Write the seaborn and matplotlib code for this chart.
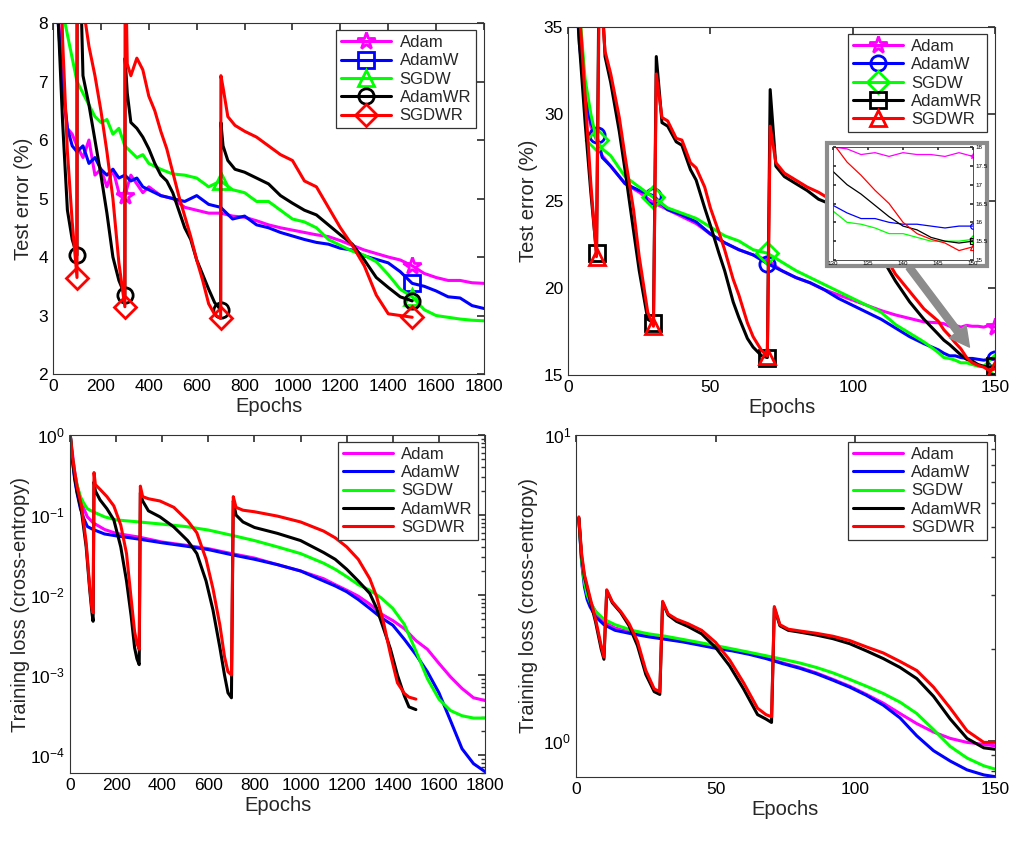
import matplotlib
matplotlib.use("Agg")
import matplotlib.pyplot as plt
from matplotlib.patches import Rectangle
from matplotlib.ticker import NullFormatter, LogLocator
import seaborn as sns

names = ["Adam", "AdamW", "SGDW", "AdamWR", "SGDWR"]
colors = ["#ff00ff", "#0000ff", "#00ff00", "#000000", "#ff0000"]

# ---- top left: test error, 1800 epochs ----
tl_ep = [0, 20, 40, 60, 80, 100, 125, 150, 175, 200,
         225, 250, 275, 300, 325, 350, 375, 400, 450, 500,
         550, 600, 650, 700, 750, 800, 850, 900, 950, 1000,
         1050, 1100, 1150, 1200, 1250, 1300, 1350, 1400, 1450, 1500,
         1550, 1600, 1650, 1700, 1750, 1800]
tl_adam = [10.5, 8.3, 7.0, 6.2, 6.1, 5.9, 5.7, 6.0, 5.4, 5.5,
           5.2, 5.5, 5.1, 5.05, 5.4, 5.25, 5.1, 5.2, 5.05, 5.0,
           4.85, 4.8, 4.75, 4.75, 4.7, 4.68, 4.62, 4.55, 4.5, 4.46,
           4.42, 4.38, 4.35, 4.28, 4.2, 4.12, 4.06, 4.0, 3.95, 3.85,
           3.72, 3.65, 3.6, 3.6, 3.56, 3.55]
tl_adamw = [10.0, 8.1, 6.9, 6.2, 5.9, 5.8, 5.9, 5.6, 5.7, 5.5,
            5.4, 5.5, 5.35, 5.4, 5.3, 5.35, 5.2, 5.15, 5.05, 5.0,
            4.95, 5.05, 4.9, 4.85, 4.65, 4.7, 4.55, 4.5, 4.42, 4.36,
            4.3, 4.25, 4.22, 4.15, 4.12, 4.02, 3.96, 3.9, 3.75, 3.55,
            3.5, 3.42, 3.32, 3.3, 3.17, 3.12]
tl_sgdw = [12.0, 9.5, 8.2, 7.8, 7.4, 7.0, 6.8, 6.6, 6.4, 6.3,
           6.35, 6.1, 6.2, 5.9, 5.8, 5.7, 5.75, 5.6, 5.5, 5.42,
           5.4, 5.35, 5.2, 5.3, 5.15, 5.1, 4.95, 4.95, 4.8, 4.65,
           4.6, 4.5, 4.3, 4.2, 4.1, 4.03, 3.92, 3.7, 3.45, 3.32,
           3.1, 3.0, 2.97, 2.94, 2.92, 2.91]

tlr_ep = [0, 20, 40, 60, 80, 100, 101, 125, 150, 175,
          200, 225, 250, 275, 300, 301, 310, 325, 350, 375,
          400, 425, 450, 475, 500, 525, 550, 575, 600, 625,
          650, 675, 700, 701, 710, 730, 760, 800, 850, 900,
          950, 1000, 1050, 1100, 1150, 1200, 1250, 1300, 1350, 1400,
          1450, 1500]
tl_adamwr = [14.0, 8.2, 6.3, 4.8, 4.3, 4.03, 11.0, 7.1, 6.6, 6.0,
             5.4, 4.75, 4.0, 3.6, 3.35, 7.4, 6.8, 6.3, 6.2, 6.05,
             5.85, 5.6, 5.4, 5.3, 5.1, 4.8, 4.5, 4.3, 3.95, 3.7,
             3.45, 3.22, 3.1, 6.3, 5.9, 5.65, 5.5, 5.45, 5.35, 5.25,
             5.05, 4.92, 4.8, 4.72, 4.55, 4.38, 4.22, 3.95, 3.65, 3.48,
             3.32, 3.25]
tl_sgdwr = [16.0, 11.0, 7.7, 5.8, 4.6, 3.65, 14.0, 8.3, 7.6, 7.1,
            6.5, 5.8, 5.0, 3.9, 3.15, 9.5, 7.3, 7.1, 7.4, 7.2,
            6.75, 6.5, 6.15, 5.85, 5.45, 5.05, 4.7, 4.35, 3.95, 3.6,
            3.2, 3.02, 2.95, 7.1, 6.9, 6.4, 6.25, 6.15, 6.05, 5.9,
            5.75, 5.65, 5.3, 5.2, 4.85, 4.5, 4.2, 3.85, 3.35, 3.03,
            3.0, 2.97]

# ---- top right: test error, 150 epochs ----
tr_ep = [0, 2, 4, 6, 8, 10, 12, 15, 20, 25,
         30, 35, 40, 45, 50, 55, 60, 65, 70, 75,
         80, 85, 90, 95, 100, 105, 110, 115, 120, 125,
         130, 132, 134, 136, 138, 140, 142, 144, 146, 148,
         150]
tr_adam = [45, 40, 35, 31, 29.3, 28.5, 27.6, 27.0, 26.0, 25.5,
           24.9, 24.5, 24.1, 23.7, 23.1, 22.6, 22.2, 21.9, 21.6, 21.0,
           20.6, 20.3, 19.9, 19.6, 19.3, 19.0, 18.7, 18.45, 18.25, 18.05,
           18.0, 17.95, 17.8, 17.85, 17.75, 17.85, 17.8, 17.8, 17.75, 17.85,
           17.75]
tr_adamw = [45, 39, 34, 31, 29.5, 28.8, 27.5, 27.0, 26.0, 25.6,
            25.3, 24.5, 24.2, 23.8, 23.1, 22.6, 22.2, 21.9, 21.4, 21.0,
            20.6, 20.3, 19.9, 19.4, 19.0, 18.6, 18.2, 17.7, 17.2, 16.8,
            16.45, 16.25, 16.1, 16.1, 16.0, 15.95, 15.95, 15.9, 15.85, 15.9,
            15.9]
tr_sgdw = [48, 42, 36, 32, 30, 28.5, 28.0, 27.6, 26.4, 25.8,
           25.2, 24.6, 24.3, 24.0, 23.5, 23.0, 22.7, 22.2, 22.0, 21.5,
           21.0, 20.6, 20.2, 19.8, 19.4, 19.0, 18.6, 17.9, 17.4, 16.9,
           16.3, 16.0, 15.95, 15.85, 15.7, 15.7, 15.6, 15.5, 15.5, 15.5,
           15.55]

trr_ep = [0, 2, 4, 6, 8, 10, 11, 13, 15, 18,
          20, 23, 25, 28, 30, 31, 33, 35, 38, 40,
          43, 45, 48, 50, 53, 55, 58, 60, 63, 65,
          68, 70, 71, 73, 76, 80, 84, 88, 91, 95,
          100, 105, 110, 115, 120, 125, 130, 132, 134, 136,
          138, 140, 142, 144, 146, 148, 150]
tr_adamwr = [50, 40, 34, 29.5, 25.5, 22.0, 40, 33.3, 31.8, 29.0,
             26.8, 23.3, 21.0, 18.2, 18.0, 33.3, 29.5, 29.3, 28.4, 28.2,
             26.8, 26.2, 24.6, 23.6, 22.0, 21.0, 19.2, 18.3, 17.1, 16.6,
             16.1, 16.0, 31.4, 27.0, 26.4, 26.0, 25.6, 25.1, 24.9, 24.3,
             23.6, 22.8, 21.8, 20.4, 19.2, 18.2, 17.35, 17.0, 16.75, 16.45,
             16.15, 15.9, 15.8, 15.6, 15.5, 15.45, 15.5]
tr_sgdwr = [52, 44, 36, 31, 26, 21.8, 38, 33.6, 32.3, 29.8,
            27.6, 24.5, 21.8, 18.6, 17.8, 32.3, 29.8, 29.6, 28.6, 28.5,
            27.2, 26.9, 25.8, 24.6, 23.2, 22.2, 20.5, 19.6, 18.0, 17.2,
            16.4, 16.1, 29.3, 27.2, 26.6, 26.2, 25.8, 25.5, 25.2, 24.6,
            23.9, 23.1, 22.2, 20.8, 19.8, 18.8, 18.1, 17.6, 17.25, 16.85,
            16.5, 16.0, 15.7, 15.55, 15.45, 15.25, 15.35]

# ---- bottom left: training loss, 1800 epochs ----
bl_ep = [1, 10, 20, 30, 45, 60, 75, 100, 150, 200,
         300, 400, 500, 600, 700, 800, 900, 1000, 1100, 1150,
         1200, 1250, 1300, 1350, 1400, 1450, 1500, 1550, 1600, 1650,
         1700, 1750, 1800]
bl_adam = [1.0, 0.6, 0.35, 0.24, 0.16, 0.12, 0.095, 0.08, 0.066, 0.059,
           0.053, 0.046, 0.042, 0.038, 0.033, 0.029, 0.024, 0.02, 0.016, 0.0135,
           0.0115, 0.0097, 0.0077, 0.0058, 0.0048, 0.0038, 0.0027, 0.0021, 0.0014, 0.00095,
           0.00068, 0.00052, 0.00048]
bl_adamw = [1.0, 0.5, 0.28, 0.19, 0.12, 0.09, 0.072, 0.066, 0.058, 0.055,
            0.05, 0.045, 0.041, 0.037, 0.032, 0.028, 0.024, 0.02, 0.015, 0.013,
            0.011, 0.0088, 0.0068, 0.0052, 0.0042, 0.0028, 0.0018, 0.0011, 0.0006, 0.00027,
            0.00012, 7.8e-5, 6.2e-5]
bl_sgdw = [1.0, 0.55, 0.33, 0.24, 0.17, 0.14, 0.12, 0.11, 0.095, 0.087,
           0.082, 0.077, 0.072, 0.065, 0.056, 0.048, 0.04, 0.033, 0.025, 0.021,
           0.017, 0.0135, 0.0115, 0.0092, 0.0068, 0.0043, 0.002, 0.0009, 0.0005, 0.00036,
           0.00031, 0.00029, 0.00029]

blr_ep = [1, 10, 20, 30, 50, 70, 85, 95, 100, 104,
          110, 130, 160, 190, 220, 245, 265, 280, 290, 300,
          305, 315, 340, 390, 450, 510, 550, 590, 620, 650,
          670, 685, 700, 708, 720, 750, 800, 900, 1000, 1100,
          1150, 1200, 1250, 1300, 1330, 1360, 1390, 1420, 1450, 1470,
          1500]
bl_adamwr = [1.0, 0.5, 0.3, 0.2, 0.11, 0.04, 0.012, 0.006, 0.0047, 0.26,
             0.2, 0.155, 0.12, 0.087, 0.04, 0.015, 0.0055, 0.0022, 0.0016, 0.00135,
             0.19, 0.15, 0.113, 0.095, 0.071, 0.048, 0.033, 0.015, 0.0065, 0.0022,
             0.001, 0.0006, 0.00052, 0.15, 0.1, 0.082, 0.07, 0.059, 0.048, 0.034,
             0.028, 0.021, 0.015, 0.0105, 0.0068, 0.0038, 0.0021, 0.001, 0.00055, 0.0004,
             0.00037]
bl_sgdwr = [1.0, 0.55, 0.35, 0.23, 0.13, 0.045, 0.013, 0.0068, 0.006, 0.34,
            0.24, 0.21, 0.17, 0.13, 0.075, 0.033, 0.009, 0.0035, 0.0025, 0.0021,
            0.23, 0.17, 0.16, 0.15, 0.125, 0.085, 0.06, 0.028, 0.012, 0.0042,
            0.0017, 0.0011, 0.001, 0.17, 0.125, 0.115, 0.11, 0.097, 0.082, 0.063,
            0.052, 0.04, 0.028, 0.016, 0.0095, 0.0045, 0.0018, 0.0008, 0.00059, 0.00053,
            0.0005]

# ---- bottom right: training loss, 150 epochs ----
br_ep = [1, 2, 3, 4, 5, 7, 10, 14, 20, 26,
         32, 38, 44, 50, 56, 62, 68, 74, 80, 86,
         92, 98, 104, 110, 116, 122, 128, 134, 140, 146,
         150]
br_adam = [5.35, 3.9, 3.3, 3.0, 2.85, 2.65, 2.45, 2.34, 2.26, 2.2,
           2.16, 2.12, 2.07, 2.02, 1.98, 1.93, 1.87, 1.8, 1.74, 1.67,
           1.59, 1.51, 1.42, 1.33, 1.23, 1.14, 1.07, 1.02, 0.99, 0.975,
           0.965]
br_adamw = [5.35, 3.85, 3.2, 2.9, 2.75, 2.55, 2.4, 2.3, 2.24, 2.19,
            2.15, 2.11, 2.06, 2.01, 1.97, 1.92, 1.86, 1.79, 1.73, 1.66,
            1.58, 1.5, 1.41, 1.31, 1.19, 1.04, 0.93, 0.86, 0.805, 0.775,
            0.765]
br_sgdw = [5.35, 3.9, 3.3, 3.0, 2.85, 2.65, 2.5, 2.4, 2.3, 2.24,
           2.2, 2.15, 2.1, 2.05, 2.0, 1.95, 1.9, 1.85, 1.8, 1.74,
           1.67, 1.59, 1.51, 1.43, 1.34, 1.23, 1.09, 0.96, 0.88, 0.83,
           0.81]

brr_ep = [1, 2, 3, 5, 7, 9, 10, 11, 13, 16,
          19, 22, 25, 28, 30, 31, 33, 36, 40, 45,
          50, 55, 60, 65, 68, 70, 71, 73, 76, 80,
          86, 92, 98, 104, 110, 116, 122, 128, 134, 140,
          146, 150]
br_adamwr = [5.35, 4.0, 3.45, 2.9, 2.45, 2.0, 1.85, 3.1, 2.83, 2.63,
             2.38, 2.05, 1.65, 1.45, 1.42, 2.84, 2.58, 2.46, 2.37, 2.24,
             2.02, 1.76, 1.48, 1.22, 1.18, 1.15, 2.72, 2.38, 2.3, 2.27,
             2.22, 2.16, 2.08, 1.97, 1.86, 1.74, 1.6, 1.4, 1.18, 1.02,
             0.95, 0.94]
br_sgdwr = [5.4, 4.1, 3.5, 2.95, 2.5, 2.05, 1.88, 3.12, 2.85, 2.65,
            2.42, 2.12, 1.7, 1.48, 1.45, 2.86, 2.6, 2.5, 2.42, 2.3,
            2.1, 1.84, 1.55, 1.28, 1.22, 1.2, 2.75, 2.4, 2.32, 2.29,
            2.25, 2.2, 2.13, 2.03, 1.94, 1.82, 1.7, 1.5, 1.28, 1.08,
            0.99, 0.99]

# epochs where each curve carries its marker
tl_marks = [[300, 1500], [1500], [700, 1500],
            [100, 300, 700, 1500], [100, 300, 700, 1500]]
tr_marks = [[150], [10, 30, 70, 150], [10, 30, 70, 150],
            [10, 30, 70, 150], [10, 30, 70, 150]]

# ---------------- style ----------------
sns.set_theme(style="white")
plt.rcParams["font.family"] = ["Liberation Sans", "DejaVu Sans"]
plt.rcParams.update({
    "mathtext.fontset": "custom",
    "mathtext.rm": "Liberation Sans",
    "mathtext.it": "Liberation Sans:italic",
    "axes.edgecolor": "#333333",
    "axes.linewidth": 0.8,
    "xtick.color": "#333333",
    "ytick.color": "#333333",
    "xtick.labelcolor": "black",
    "ytick.labelcolor": "black",
})

fig = plt.figure(figsize=(10.36, 8.43), dpi=100)
ax_tl = fig.add_axes([0.0512, 0.5563, 0.416, 0.4164])
ax_tr = fig.add_axes([0.5483, 0.5552, 0.4122, 0.4128])
ax_bl = fig.add_axes([0.0676, 0.0830, 0.4006, 0.4009])
ax_br = fig.add_axes([0.5560, 0.0783, 0.4044, 0.4057])


def draw(ax, ep, vals, name, color, marker=None, marks=None, lw=2.2, ms=11, mew=2):
    kw = {}
    if marker is not None:
        kw = dict(marker=marker, markevery=[ep.index(m) for m in marks],
                  markersize=ms, markerfacecolor="none",
                  markeredgecolor=color, markeredgewidth=mew)
    sns.lineplot(x=ep, y=vals, color=color, linewidth=lw, label=name,
                 ax=ax, sort=False, estimator=None, **kw)


def style(ax, ylabel, ypad=4):
    ax.tick_params(which="both", direction="in", top=True, right=True,
                   labelsize=12.5)
    ax.tick_params(which="major", length=5)
    ax.tick_params(which="minor", length=3)
    ax.set_xlabel("Epochs", fontsize=14.5, labelpad=2)
    ax.set_ylabel(ylabel, fontsize=14.5, labelpad=ypad)
    leg = ax.legend(loc="upper right", bbox_to_anchor=(0.982, 0.98),
                    fontsize=12, fancybox=False, framealpha=1,
                    edgecolor="#333333", handlelength=3.0, handletextpad=0.5,
                    labelspacing=0.2, borderpad=0.3, borderaxespad=0)
    leg.get_frame().set_linewidth(0.9)


# top left
tl_series = [(tl_ep, tl_adam), (tl_ep, tl_adamw), (tl_ep, tl_sgdw),
             (tlr_ep, tl_adamwr), (tlr_ep, tl_sgdwr)]
tl_markers = ["*", "s", "^", "o", "D"]
for (ep, vals), name, c, m, mk in zip(tl_series, names, colors, tl_markers, tl_marks):
    draw(ax_tl, ep, vals, name, c, m, mk, ms=13 if m == "*" else 11)
ax_tl.set_xlim(0, 1800)
ax_tl.set_ylim(2, 8)
ax_tl.set_xticks(range(0, 1801, 200))
ax_tl.set_yticks(range(2, 9))
style(ax_tl, "Test error (%)")

# top right
tr_series = [(tr_ep, tr_adam), (tr_ep, tr_adamw), (tr_ep, tr_sgdw),
             (trr_ep, tr_adamwr), (trr_ep, tr_sgdwr)]
tr_markers = ["*", "o", "D", "s", "^"]
for (ep, vals), name, c, m, mk in zip(tr_series, names, colors, tr_markers, tr_marks):
    draw(ax_tr, ep, vals, name, c, m, mk, ms=13 if m == "*" else 11)
ax_tr.set_xlim(0, 150)
ax_tr.set_ylim(15, 35)
ax_tr.set_xticks([0, 50, 100, 150])
ax_tr.set_yticks([15, 20, 25, 30, 35])
style(ax_tr, "Test error (%)")
ax_tr.annotate("", xy=(141, 16.6), xytext=(119.8, 21.2),
               arrowprops=dict(facecolor="#8c8c8c", edgecolor="#8c8c8c",
                               width=5, headwidth=15, headlength=14, shrink=0),
               zorder=6)

# inset with gray frame
frame = Rectangle((827 / 1036, 1 - 266 / 843), 160 / 1036, 123 / 843,
                  transform=fig.transFigure, facecolor="white",
                  edgecolor="#8c8c8c", linewidth=3, zorder=2)
fig.add_artist(frame)
ax_in = fig.add_axes([0.8041, 0.6916, 0.1351, 0.134])
ax_in.set_zorder(3)
for (ep, vals), name, c, m in zip(tr_series, names, colors, tr_markers):
    draw(ax_in, ep, vals, name, c, m, [150], lw=0.9, ms=4, mew=0.9)
if ax_in.get_legend() is not None:
    ax_in.get_legend().remove()
ax_in.set_xlim(130, 150)
ax_in.set_ylim(15, 18)
ax_in.set_xticks([130, 135, 140, 145, 150])
ax_in.set_yticks([15, 15.5, 16, 16.5, 17, 17.5, 18])
ax_in.set_yticklabels(["15", "15.5", "16", "16.5", "17", "17.5", "18"])
ax_in.yaxis.tick_right()
ax_in.tick_params(direction="in", labelsize=4.5, length=2, pad=1,
                  left=True, right=True, top=True)
ax_in.tick_params(axis="y", pad=2)
for sp in ax_in.spines.values():
    sp.set_linewidth(0.6)

# bottom left
bl_series = [(bl_ep, bl_adam), (bl_ep, bl_adamw), (bl_ep, bl_sgdw),
             (blr_ep, bl_adamwr), (blr_ep, bl_sgdwr)]
for (ep, vals), name, c in zip(bl_series, names, colors):
    draw(ax_bl, ep, vals, name, c)
ax_bl.set_yscale("log")
ax_bl.set_xlim(0, 1800)
ax_bl.set_ylim(5.96e-5, 1)
ax_bl.set_xticks(range(0, 1801, 200))
ax_bl.yaxis.set_major_locator(LogLocator(base=10, numticks=10))
ax_bl.yaxis.set_minor_locator(LogLocator(base=10, subs=range(2, 10), numticks=20))
ax_bl.yaxis.set_minor_formatter(NullFormatter())
style(ax_bl, "Training loss (cross-entropy)", ypad=0)

# bottom right
br_series = [(br_ep, br_adam), (br_ep, br_adamw), (br_ep, br_sgdw),
             (brr_ep, br_adamwr), (brr_ep, br_sgdwr)]
for (ep, vals), name, c in zip(br_series, names, colors):
    draw(ax_br, ep, vals, name, c)
ax_br.set_yscale("log")
ax_br.set_xlim(0, 150)
ax_br.set_ylim(0.763, 10)
ax_br.set_xticks([0, 50, 100, 150])
ax_br.yaxis.set_major_locator(LogLocator(base=10, numticks=10))
ax_br.yaxis.set_minor_locator(LogLocator(base=10, subs=range(2, 10), numticks=20))
ax_br.yaxis.set_minor_formatter(NullFormatter())
style(ax_br, "Training loss (cross-entropy)")

fig.savefig("out.png", dpi=100)
